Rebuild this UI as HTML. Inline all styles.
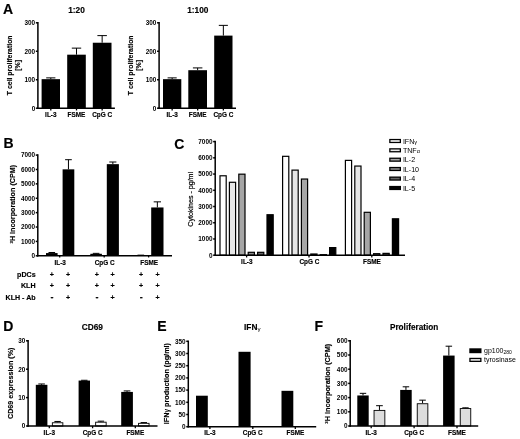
<!DOCTYPE html>
<html><head><meta charset="utf-8"><title>Figure</title>
<style>
html,body{margin:0;padding:0;background:#fff;}
svg{display:block;font-family:"Liberation Sans",Arial,sans-serif;fill:#000;}
</style></head><body>
<svg width="520" height="439" viewBox="0 0 520 439">
<rect x="0" y="0" width="520" height="439" fill="#fff"/>
<text x="2.90" y="13.70" font-size="14" font-weight="bold" text-anchor="start" stroke="#000" stroke-width="0.15">A</text>
<text x="76.50" y="12.60" font-size="8.3" font-weight="bold" text-anchor="middle" stroke="#000" stroke-width="0.15">1:20</text>
<line x1="50.80" y1="79.16" x2="50.80" y2="77.88" stroke="#000" stroke-width="1.0"/>
<line x1="46.20" y1="77.88" x2="55.40" y2="77.88" stroke="#000" stroke-width="1.0"/>
<rect x="41.60" y="79.16" width="18.40" height="29.04" fill="#000"/>
<line x1="76.50" y1="54.68" x2="76.50" y2="48.14" stroke="#000" stroke-width="1.0"/>
<line x1="71.80" y1="48.14" x2="81.20" y2="48.14" stroke="#000" stroke-width="1.0"/>
<rect x="67.20" y="54.68" width="18.60" height="53.52" fill="#000"/>
<line x1="102.15" y1="42.73" x2="102.15" y2="35.61" stroke="#000" stroke-width="1.0"/>
<line x1="97.40" y1="35.61" x2="106.90" y2="35.61" stroke="#000" stroke-width="1.0"/>
<rect x="92.80" y="42.73" width="18.70" height="65.47" fill="#000"/>
<line x1="37.90" y1="22.05" x2="37.90" y2="108.95" stroke="#000" stroke-width="1.5"/>
<line x1="37.15" y1="108.20" x2="114.90" y2="108.20" stroke="#000" stroke-width="1.5"/>
<line x1="35.85" y1="22.80" x2="37.90" y2="22.80" stroke="#000" stroke-width="1.5"/>
<text x="35.20" y="25.10" font-size="6.4" font-weight="bold" text-anchor="end">300</text>
<line x1="35.85" y1="51.27" x2="37.90" y2="51.27" stroke="#000" stroke-width="1.5"/>
<text x="35.20" y="53.57" font-size="6.4" font-weight="bold" text-anchor="end">200</text>
<line x1="35.85" y1="79.73" x2="37.90" y2="79.73" stroke="#000" stroke-width="1.5"/>
<text x="35.20" y="82.04" font-size="6.4" font-weight="bold" text-anchor="end">100</text>
<line x1="35.85" y1="108.20" x2="37.90" y2="108.20" stroke="#000" stroke-width="1.5"/>
<text x="35.20" y="110.50" font-size="6.4" font-weight="bold" text-anchor="end">0</text>
<line x1="50.80" y1="108.20" x2="50.80" y2="110.45" stroke="#000" stroke-width="1.3"/>
<line x1="76.50" y1="108.20" x2="76.50" y2="110.45" stroke="#000" stroke-width="1.3"/>
<line x1="102.15" y1="108.20" x2="102.15" y2="110.45" stroke="#000" stroke-width="1.3"/>
<text x="50.80" y="117.00" font-size="6.4" font-weight="bold" text-anchor="middle" stroke="#000" stroke-width="0.15">IL-3</text>
<text x="76.50" y="117.00" font-size="6.4" font-weight="bold" text-anchor="middle" stroke="#000" stroke-width="0.15">FSME</text>
<text x="102.15" y="117.00" font-size="6.4" font-weight="bold" text-anchor="middle" stroke="#000" stroke-width="0.15">CpG C</text>
<text x="12.00" y="65.30" font-size="6.9" font-weight="bold" text-anchor="middle" transform="rotate(-90 12.00 65.30)" stroke="#000" stroke-width="0.15">T cell proliferation</text>
<text x="20.20" y="65.30" font-size="7.0" font-weight="bold" text-anchor="middle" transform="rotate(-90 20.20 65.30)" stroke="#000" stroke-width="0.15">[%]</text>
<text x="197.80" y="12.60" font-size="8.3" font-weight="bold" text-anchor="middle" stroke="#000" stroke-width="0.15">1:100</text>
<line x1="172.15" y1="79.16" x2="172.15" y2="77.88" stroke="#000" stroke-width="1.0"/>
<line x1="167.60" y1="77.88" x2="176.70" y2="77.88" stroke="#000" stroke-width="1.0"/>
<rect x="163.00" y="79.16" width="18.30" height="29.04" fill="#000"/>
<line x1="197.65" y1="70.20" x2="197.65" y2="67.92" stroke="#000" stroke-width="1.0"/>
<line x1="192.90" y1="67.92" x2="202.40" y2="67.92" stroke="#000" stroke-width="1.0"/>
<rect x="188.30" y="70.20" width="18.70" height="38.00" fill="#000"/>
<line x1="223.35" y1="35.61" x2="223.35" y2="25.36" stroke="#000" stroke-width="1.0"/>
<line x1="218.80" y1="25.36" x2="227.90" y2="25.36" stroke="#000" stroke-width="1.0"/>
<rect x="214.20" y="35.61" width="18.30" height="72.59" fill="#000"/>
<line x1="159.10" y1="22.05" x2="159.10" y2="108.95" stroke="#000" stroke-width="1.5"/>
<line x1="158.35" y1="108.20" x2="236.00" y2="108.20" stroke="#000" stroke-width="1.5"/>
<line x1="157.05" y1="22.80" x2="159.10" y2="22.80" stroke="#000" stroke-width="1.5"/>
<text x="156.40" y="25.10" font-size="6.4" font-weight="bold" text-anchor="end">300</text>
<line x1="157.05" y1="51.27" x2="159.10" y2="51.27" stroke="#000" stroke-width="1.5"/>
<text x="156.40" y="53.57" font-size="6.4" font-weight="bold" text-anchor="end">200</text>
<line x1="157.05" y1="79.73" x2="159.10" y2="79.73" stroke="#000" stroke-width="1.5"/>
<text x="156.40" y="82.04" font-size="6.4" font-weight="bold" text-anchor="end">100</text>
<line x1="157.05" y1="108.20" x2="159.10" y2="108.20" stroke="#000" stroke-width="1.5"/>
<text x="156.40" y="110.50" font-size="6.4" font-weight="bold" text-anchor="end">0</text>
<line x1="172.15" y1="108.20" x2="172.15" y2="110.45" stroke="#000" stroke-width="1.3"/>
<line x1="197.65" y1="108.20" x2="197.65" y2="110.45" stroke="#000" stroke-width="1.3"/>
<line x1="223.35" y1="108.20" x2="223.35" y2="110.45" stroke="#000" stroke-width="1.3"/>
<text x="172.15" y="117.00" font-size="6.4" font-weight="bold" text-anchor="middle" stroke="#000" stroke-width="0.15">IL-3</text>
<text x="197.65" y="117.00" font-size="6.4" font-weight="bold" text-anchor="middle" stroke="#000" stroke-width="0.15">FSME</text>
<text x="223.35" y="117.00" font-size="6.4" font-weight="bold" text-anchor="middle" stroke="#000" stroke-width="0.15">CpG C</text>
<text x="133.50" y="65.30" font-size="6.9" font-weight="bold" text-anchor="middle" transform="rotate(-90 133.50 65.30)" stroke="#000" stroke-width="0.15">T cell proliferation</text>
<text x="141.40" y="65.30" font-size="7.0" font-weight="bold" text-anchor="middle" transform="rotate(-90 141.40 65.30)" stroke="#000" stroke-width="0.15">[%]</text>
<text x="3.50" y="148.30" font-size="14" font-weight="bold" text-anchor="start" stroke="#000" stroke-width="0.15">B</text>
<line x1="51.80" y1="253.07" x2="51.80" y2="252.49" stroke="#000" stroke-width="1.0"/>
<line x1="48.50" y1="252.49" x2="55.10" y2="252.49" stroke="#000" stroke-width="1.0"/>
<rect x="46.00" y="253.07" width="11.60" height="2.73" fill="#000"/>
<line x1="68.45" y1="169.34" x2="68.45" y2="159.70" stroke="#000" stroke-width="1.0"/>
<line x1="65.10" y1="159.70" x2="71.80" y2="159.70" stroke="#000" stroke-width="1.0"/>
<rect x="62.60" y="169.34" width="11.70" height="86.46" fill="#000"/>
<line x1="96.10" y1="253.79" x2="96.10" y2="253.35" stroke="#000" stroke-width="1.0"/>
<line x1="92.80" y1="253.35" x2="99.40" y2="253.35" stroke="#000" stroke-width="1.0"/>
<rect x="90.30" y="253.79" width="11.60" height="2.01" fill="#000"/>
<line x1="112.85" y1="164.16" x2="112.85" y2="162.01" stroke="#000" stroke-width="1.0"/>
<line x1="109.30" y1="162.01" x2="116.40" y2="162.01" stroke="#000" stroke-width="1.0"/>
<rect x="106.80" y="164.16" width="12.10" height="91.64" fill="#000"/>
<line x1="140.80" y1="255.15" x2="140.80" y2="255.15" stroke="#000" stroke-width="1.0"/>
<line x1="137.50" y1="255.15" x2="144.10" y2="255.15" stroke="#000" stroke-width="1.0"/>
<rect x="135.00" y="255.15" width="11.60" height="0.65" fill="#000"/>
<line x1="157.35" y1="207.46" x2="157.35" y2="201.85" stroke="#000" stroke-width="1.0"/>
<line x1="153.70" y1="201.85" x2="161.00" y2="201.85" stroke="#000" stroke-width="1.0"/>
<rect x="151.20" y="207.46" width="12.30" height="48.34" fill="#000"/>
<line x1="37.80" y1="154.35" x2="37.80" y2="256.55" stroke="#000" stroke-width="1.5"/>
<line x1="37.05" y1="255.80" x2="172.00" y2="255.80" stroke="#000" stroke-width="1.5"/>
<line x1="35.75" y1="255.80" x2="37.80" y2="255.80" stroke="#000" stroke-width="1.5"/>
<text x="35.10" y="258.10" font-size="6.4" font-weight="bold" text-anchor="end">0</text>
<line x1="35.75" y1="241.41" x2="37.80" y2="241.41" stroke="#000" stroke-width="1.5"/>
<text x="35.10" y="243.72" font-size="6.4" font-weight="bold" text-anchor="end">1000</text>
<line x1="35.75" y1="227.03" x2="37.80" y2="227.03" stroke="#000" stroke-width="1.5"/>
<text x="35.10" y="229.33" font-size="6.4" font-weight="bold" text-anchor="end">2000</text>
<line x1="35.75" y1="212.64" x2="37.80" y2="212.64" stroke="#000" stroke-width="1.5"/>
<text x="35.10" y="214.95" font-size="6.4" font-weight="bold" text-anchor="end">3000</text>
<line x1="35.75" y1="198.26" x2="37.80" y2="198.26" stroke="#000" stroke-width="1.5"/>
<text x="35.10" y="200.56" font-size="6.4" font-weight="bold" text-anchor="end">4000</text>
<line x1="35.75" y1="183.87" x2="37.80" y2="183.87" stroke="#000" stroke-width="1.5"/>
<text x="35.10" y="186.18" font-size="6.4" font-weight="bold" text-anchor="end">5000</text>
<line x1="35.75" y1="169.49" x2="37.80" y2="169.49" stroke="#000" stroke-width="1.5"/>
<text x="35.10" y="171.79" font-size="6.4" font-weight="bold" text-anchor="end">6000</text>
<line x1="35.75" y1="155.10" x2="37.80" y2="155.10" stroke="#000" stroke-width="1.5"/>
<text x="35.10" y="157.40" font-size="6.4" font-weight="bold" text-anchor="end">7000</text>
<line x1="59.70" y1="255.80" x2="59.70" y2="257.45" stroke="#000" stroke-width="1.3"/>
<line x1="104.20" y1="255.80" x2="104.20" y2="257.45" stroke="#000" stroke-width="1.3"/>
<line x1="148.60" y1="255.80" x2="148.60" y2="257.45" stroke="#000" stroke-width="1.3"/>
<text x="60.20" y="264.60" font-size="6.4" font-weight="bold" text-anchor="middle" stroke="#000" stroke-width="0.15">IL-3</text>
<text x="104.70" y="264.60" font-size="6.4" font-weight="bold" text-anchor="middle" stroke="#000" stroke-width="0.15">CpG C</text>
<text x="149.20" y="264.60" font-size="6.4" font-weight="bold" text-anchor="middle" stroke="#000" stroke-width="0.15">FSME</text>
<text x="15.50" y="204.20" font-size="7.2" font-weight="bold" text-anchor="middle" transform="rotate(-90 15.50 204.20)" stroke="#000" stroke-width="0.15"><tspan font-size="4.4" dy="-2.4">3</tspan><tspan dy="2.4">H Incorporation (CPM)</tspan></text>
<text x="35.60" y="276.90" font-size="7.1" font-weight="bold" text-anchor="end" stroke="#000" stroke-width="0.15">pDCs</text>
<text x="51.90" y="276.90" font-size="7.1" font-weight="bold" text-anchor="middle" stroke="#000" stroke-width="0.15">+</text>
<text x="68.20" y="276.90" font-size="7.1" font-weight="bold" text-anchor="middle" stroke="#000" stroke-width="0.15">+</text>
<text x="96.90" y="276.90" font-size="7.1" font-weight="bold" text-anchor="middle" stroke="#000" stroke-width="0.15">+</text>
<text x="112.50" y="276.90" font-size="7.1" font-weight="bold" text-anchor="middle" stroke="#000" stroke-width="0.15">+</text>
<text x="141.20" y="276.90" font-size="7.1" font-weight="bold" text-anchor="middle" stroke="#000" stroke-width="0.15">+</text>
<text x="157.50" y="276.90" font-size="7.1" font-weight="bold" text-anchor="middle" stroke="#000" stroke-width="0.15">+</text>
<text x="35.60" y="288.40" font-size="7.1" font-weight="bold" text-anchor="end" stroke="#000" stroke-width="0.15">KLH</text>
<text x="51.90" y="288.40" font-size="7.1" font-weight="bold" text-anchor="middle" stroke="#000" stroke-width="0.15">+</text>
<text x="68.20" y="288.40" font-size="7.1" font-weight="bold" text-anchor="middle" stroke="#000" stroke-width="0.15">+</text>
<text x="96.90" y="288.40" font-size="7.1" font-weight="bold" text-anchor="middle" stroke="#000" stroke-width="0.15">+</text>
<text x="112.50" y="288.40" font-size="7.1" font-weight="bold" text-anchor="middle" stroke="#000" stroke-width="0.15">+</text>
<text x="141.20" y="288.40" font-size="7.1" font-weight="bold" text-anchor="middle" stroke="#000" stroke-width="0.15">+</text>
<text x="157.50" y="288.40" font-size="7.1" font-weight="bold" text-anchor="middle" stroke="#000" stroke-width="0.15">+</text>
<text x="35.60" y="300.00" font-size="7.1" font-weight="bold" text-anchor="end" stroke="#000" stroke-width="0.15">KLH - Ab</text>
<text x="51.90" y="300.00" font-size="9" font-weight="bold" text-anchor="middle" stroke="#000" stroke-width="0.15">-</text>
<text x="68.20" y="300.00" font-size="7.1" font-weight="bold" text-anchor="middle" stroke="#000" stroke-width="0.15">+</text>
<text x="96.90" y="300.00" font-size="9" font-weight="bold" text-anchor="middle" stroke="#000" stroke-width="0.15">-</text>
<text x="112.50" y="300.00" font-size="7.1" font-weight="bold" text-anchor="middle" stroke="#000" stroke-width="0.15">+</text>
<text x="141.20" y="300.00" font-size="9" font-weight="bold" text-anchor="middle" stroke="#000" stroke-width="0.15">-</text>
<text x="157.50" y="300.00" font-size="7.1" font-weight="bold" text-anchor="middle" stroke="#000" stroke-width="0.15">+</text>
<text x="174.30" y="148.90" font-size="14" font-weight="bold" text-anchor="start" stroke="#000" stroke-width="0.15">C</text>
<rect x="220.00" y="175.79" width="6.20" height="79.41" fill="#fff" stroke="#000" stroke-width="1.2"/>
<rect x="229.40" y="182.28" width="6.20" height="72.92" fill="#e6e6e6" stroke="#000" stroke-width="1.2"/>
<rect x="238.80" y="174.17" width="6.20" height="81.03" fill="#a6a6a6" stroke="#000" stroke-width="1.2"/>
<rect x="248.20" y="252.31" width="6.20" height="2.89" fill="#8c8c8c" stroke="#000" stroke-width="1.2"/>
<rect x="257.60" y="252.31" width="6.20" height="2.89" fill="#666" stroke="#000" stroke-width="1.2"/>
<rect x="267.00" y="214.74" width="6.20" height="40.46" fill="#000" stroke="#000" stroke-width="1.2"/>
<rect x="282.60" y="156.32" width="6.20" height="98.88" fill="#fff" stroke="#000" stroke-width="1.2"/>
<rect x="292.00" y="170.11" width="6.20" height="85.09" fill="#e6e6e6" stroke="#000" stroke-width="1.2"/>
<rect x="301.40" y="179.04" width="6.20" height="76.16" fill="#a6a6a6" stroke="#000" stroke-width="1.2"/>
<rect x="310.80" y="254.01" width="6.20" height="1.19" fill="#8c8c8c" stroke="#000" stroke-width="1.2"/>
<rect x="320.20" y="254.66" width="6.20" height="0.54" fill="#666" stroke="#000" stroke-width="1.2"/>
<rect x="329.60" y="247.60" width="6.20" height="7.60" fill="#000" stroke="#000" stroke-width="1.2"/>
<rect x="345.40" y="160.38" width="6.20" height="94.82" fill="#fff" stroke="#000" stroke-width="1.2"/>
<rect x="354.80" y="166.06" width="6.20" height="89.14" fill="#e6e6e6" stroke="#000" stroke-width="1.2"/>
<rect x="364.20" y="212.31" width="6.20" height="42.89" fill="#a6a6a6" stroke="#000" stroke-width="1.2"/>
<rect x="373.60" y="253.69" width="6.20" height="1.51" fill="#8c8c8c" stroke="#000" stroke-width="1.2"/>
<rect x="383.00" y="253.37" width="6.20" height="1.83" fill="#666" stroke="#000" stroke-width="1.2"/>
<rect x="392.40" y="218.80" width="6.20" height="36.40" fill="#000" stroke="#000" stroke-width="1.2"/>
<line x1="215.20" y1="140.85" x2="215.20" y2="255.95" stroke="#000" stroke-width="1.5"/>
<line x1="214.45" y1="255.20" x2="405.00" y2="255.20" stroke="#000" stroke-width="1.5"/>
<line x1="213.15" y1="255.20" x2="215.20" y2="255.20" stroke="#000" stroke-width="1.5"/>
<text x="212.50" y="257.50" font-size="6.4" font-weight="bold" text-anchor="end">0</text>
<line x1="213.15" y1="238.97" x2="215.20" y2="238.97" stroke="#000" stroke-width="1.5"/>
<text x="212.50" y="241.28" font-size="6.4" font-weight="bold" text-anchor="end">1000</text>
<line x1="213.15" y1="222.74" x2="215.20" y2="222.74" stroke="#000" stroke-width="1.5"/>
<text x="212.50" y="225.05" font-size="6.4" font-weight="bold" text-anchor="end">2000</text>
<line x1="213.15" y1="206.51" x2="215.20" y2="206.51" stroke="#000" stroke-width="1.5"/>
<text x="212.50" y="208.82" font-size="6.4" font-weight="bold" text-anchor="end">3000</text>
<line x1="213.15" y1="190.29" x2="215.20" y2="190.29" stroke="#000" stroke-width="1.5"/>
<text x="212.50" y="192.59" font-size="6.4" font-weight="bold" text-anchor="end">4000</text>
<line x1="213.15" y1="174.06" x2="215.20" y2="174.06" stroke="#000" stroke-width="1.5"/>
<text x="212.50" y="176.36" font-size="6.4" font-weight="bold" text-anchor="end">5000</text>
<line x1="213.15" y1="157.83" x2="215.20" y2="157.83" stroke="#000" stroke-width="1.5"/>
<text x="212.50" y="160.13" font-size="6.4" font-weight="bold" text-anchor="end">6000</text>
<line x1="213.15" y1="141.60" x2="215.20" y2="141.60" stroke="#000" stroke-width="1.5"/>
<text x="212.50" y="143.90" font-size="6.4" font-weight="bold" text-anchor="end">7000</text>
<line x1="246.60" y1="255.20" x2="246.60" y2="257.45" stroke="#000" stroke-width="1.3"/>
<line x1="309.00" y1="255.20" x2="309.00" y2="257.45" stroke="#000" stroke-width="1.3"/>
<line x1="371.80" y1="255.20" x2="371.80" y2="257.45" stroke="#000" stroke-width="1.3"/>
<text x="246.80" y="263.90" font-size="6.4" font-weight="bold" text-anchor="middle" stroke="#000" stroke-width="0.15">IL-3</text>
<text x="309.40" y="263.90" font-size="6.4" font-weight="bold" text-anchor="middle" stroke="#000" stroke-width="0.15">CpG C</text>
<text x="372.00" y="263.90" font-size="6.4" font-weight="bold" text-anchor="middle" stroke="#000" stroke-width="0.15">FSME</text>
<text x="192.60" y="199.30" font-size="7.1" font-weight="normal" text-anchor="middle" transform="rotate(-90 192.60 199.30)" stroke="#000" stroke-width="0.2">Cytokines - pg/ml</text>
<rect x="389.85" y="139.55" width="10.50" height="2.90" fill="#fff" stroke="#000" stroke-width="1.3"/>
<text x="402.90" y="143.50" font-size="7.1" font-weight="normal" text-anchor="start">IFN<tspan font-size="5.6">&#947;</tspan></text>
<rect x="389.85" y="148.85" width="10.50" height="2.90" fill="#e6e6e6" stroke="#000" stroke-width="1.3"/>
<text x="402.90" y="152.80" font-size="7.1" font-weight="normal" text-anchor="start">TNF<tspan font-size="5.6">&#945;</tspan></text>
<rect x="389.85" y="158.25" width="10.50" height="2.90" fill="#a6a6a6" stroke="#000" stroke-width="1.3"/>
<text x="402.90" y="162.20" font-size="7.1" font-weight="normal" text-anchor="start">IL-2</text>
<rect x="389.85" y="167.55" width="10.50" height="2.90" fill="#8c8c8c" stroke="#000" stroke-width="1.3"/>
<text x="402.90" y="171.50" font-size="7.1" font-weight="normal" text-anchor="start">IL-10</text>
<rect x="389.85" y="177.15" width="10.50" height="2.90" fill="#666" stroke="#000" stroke-width="1.3"/>
<text x="402.90" y="181.10" font-size="7.1" font-weight="normal" text-anchor="start">IL-4</text>
<rect x="389.85" y="186.55" width="10.50" height="2.90" fill="#000" stroke="#000" stroke-width="1.3"/>
<text x="402.90" y="190.50" font-size="7.1" font-weight="normal" text-anchor="start">IL-5</text>
<text x="3.20" y="331.30" font-size="14" font-weight="bold" text-anchor="start" stroke="#000" stroke-width="0.15">D</text>
<text x="92.30" y="329.90" font-size="8.3" font-weight="bold" text-anchor="middle" stroke="#000" stroke-width="0.15">CD69</text>
<line x1="41.60" y1="384.82" x2="41.60" y2="383.97" stroke="#000" stroke-width="1.0"/>
<line x1="38.30" y1="383.97" x2="44.90" y2="383.97" stroke="#000" stroke-width="1.0"/>
<rect x="35.80" y="384.82" width="11.60" height="41.18" fill="#000"/>
<line x1="57.60" y1="422.31" x2="57.60" y2="421.46" stroke="#000" stroke-width="1.0"/>
<line x1="54.40" y1="421.46" x2="60.80" y2="421.46" stroke="#000" stroke-width="1.0"/>
<rect x="52.35" y="422.76" width="10.50" height="3.24" fill="#fff" stroke="#000" stroke-width="0.9"/>
<line x1="84.30" y1="380.56" x2="84.30" y2="380.28" stroke="#000" stroke-width="1.0"/>
<line x1="81.10" y1="380.28" x2="87.50" y2="380.28" stroke="#000" stroke-width="1.0"/>
<rect x="78.60" y="380.56" width="11.40" height="45.44" fill="#000"/>
<line x1="100.90" y1="421.74" x2="100.90" y2="421.17" stroke="#000" stroke-width="1.0"/>
<line x1="97.70" y1="421.17" x2="104.10" y2="421.17" stroke="#000" stroke-width="1.0"/>
<rect x="95.65" y="422.19" width="10.50" height="3.81" fill="#fff" stroke="#000" stroke-width="0.9"/>
<line x1="127.05" y1="391.92" x2="127.05" y2="390.93" stroke="#000" stroke-width="1.0"/>
<line x1="123.70" y1="390.93" x2="130.40" y2="390.93" stroke="#000" stroke-width="1.0"/>
<rect x="121.20" y="391.92" width="11.70" height="34.08" fill="#000"/>
<line x1="143.80" y1="422.88" x2="143.80" y2="422.59" stroke="#000" stroke-width="1.0"/>
<line x1="140.60" y1="422.59" x2="147.00" y2="422.59" stroke="#000" stroke-width="1.0"/>
<rect x="138.55" y="423.33" width="10.50" height="2.67" fill="#fff" stroke="#000" stroke-width="0.9"/>
<line x1="28.10" y1="340.05" x2="28.10" y2="426.75" stroke="#000" stroke-width="1.5"/>
<line x1="27.35" y1="426.00" x2="157.50" y2="426.00" stroke="#000" stroke-width="1.5"/>
<line x1="26.05" y1="340.80" x2="28.10" y2="340.80" stroke="#000" stroke-width="1.5"/>
<text x="25.40" y="343.10" font-size="6.4" font-weight="bold" text-anchor="end">30</text>
<line x1="26.05" y1="369.20" x2="28.10" y2="369.20" stroke="#000" stroke-width="1.5"/>
<text x="25.40" y="371.50" font-size="6.4" font-weight="bold" text-anchor="end">20</text>
<line x1="26.05" y1="397.60" x2="28.10" y2="397.60" stroke="#000" stroke-width="1.5"/>
<text x="25.40" y="399.90" font-size="6.4" font-weight="bold" text-anchor="end">10</text>
<line x1="26.05" y1="426.00" x2="28.10" y2="426.00" stroke="#000" stroke-width="1.5"/>
<text x="25.40" y="428.30" font-size="6.4" font-weight="bold" text-anchor="end">0</text>
<line x1="49.30" y1="426.00" x2="49.30" y2="428.25" stroke="#000" stroke-width="1.3"/>
<line x1="92.60" y1="426.00" x2="92.60" y2="428.25" stroke="#000" stroke-width="1.3"/>
<line x1="135.30" y1="426.00" x2="135.30" y2="428.25" stroke="#000" stroke-width="1.3"/>
<text x="49.30" y="435.10" font-size="6.4" font-weight="bold" text-anchor="middle" stroke="#000" stroke-width="0.15">IL-3</text>
<text x="92.60" y="435.10" font-size="6.4" font-weight="bold" text-anchor="middle" stroke="#000" stroke-width="0.15">CpG C</text>
<text x="135.30" y="435.10" font-size="6.4" font-weight="bold" text-anchor="middle" stroke="#000" stroke-width="0.15">FSME</text>
<text x="12.80" y="383.30" font-size="7.2" font-weight="bold" text-anchor="middle" transform="rotate(-90 12.80 383.30)" stroke="#000" stroke-width="0.15">CD69 expression (%)</text>
<text x="157.30" y="331.30" font-size="14" font-weight="bold" text-anchor="start" stroke="#000" stroke-width="0.15">E</text>
<text x="252.30" y="330.20" font-size="8.3" font-weight="bold" text-anchor="middle" stroke="#000" stroke-width="0.15">IFN<tspan font-size="6.2" font-weight="normal" stroke="none" dy="1.2">&#947;</tspan></text>
<rect x="196.00" y="395.71" width="11.80" height="30.99" fill="#000"/>
<rect x="238.50" y="351.79" width="12.10" height="74.91" fill="#000"/>
<rect x="281.50" y="390.83" width="11.80" height="35.87" fill="#000"/>
<line x1="188.30" y1="340.55" x2="188.30" y2="427.45" stroke="#000" stroke-width="1.5"/>
<line x1="187.55" y1="426.70" x2="316.20" y2="426.70" stroke="#000" stroke-width="1.5"/>
<line x1="186.25" y1="426.70" x2="188.30" y2="426.70" stroke="#000" stroke-width="1.5"/>
<text x="185.60" y="429.00" font-size="6.4" font-weight="bold" text-anchor="end">0</text>
<line x1="186.25" y1="414.50" x2="188.30" y2="414.50" stroke="#000" stroke-width="1.5"/>
<text x="185.60" y="416.80" font-size="6.4" font-weight="bold" text-anchor="end">50</text>
<line x1="186.25" y1="402.30" x2="188.30" y2="402.30" stroke="#000" stroke-width="1.5"/>
<text x="185.60" y="404.60" font-size="6.4" font-weight="bold" text-anchor="end">100</text>
<line x1="186.25" y1="390.10" x2="188.30" y2="390.10" stroke="#000" stroke-width="1.5"/>
<text x="185.60" y="392.40" font-size="6.4" font-weight="bold" text-anchor="end">150</text>
<line x1="186.25" y1="377.90" x2="188.30" y2="377.90" stroke="#000" stroke-width="1.5"/>
<text x="185.60" y="380.20" font-size="6.4" font-weight="bold" text-anchor="end">200</text>
<line x1="186.25" y1="365.70" x2="188.30" y2="365.70" stroke="#000" stroke-width="1.5"/>
<text x="185.60" y="368.00" font-size="6.4" font-weight="bold" text-anchor="end">250</text>
<line x1="186.25" y1="353.50" x2="188.30" y2="353.50" stroke="#000" stroke-width="1.5"/>
<text x="185.60" y="355.80" font-size="6.4" font-weight="bold" text-anchor="end">300</text>
<line x1="186.25" y1="341.30" x2="188.30" y2="341.30" stroke="#000" stroke-width="1.5"/>
<text x="185.60" y="343.60" font-size="6.4" font-weight="bold" text-anchor="end">350</text>
<line x1="209.90" y1="426.70" x2="209.90" y2="428.95" stroke="#000" stroke-width="1.3"/>
<line x1="252.80" y1="426.70" x2="252.80" y2="428.95" stroke="#000" stroke-width="1.3"/>
<line x1="295.30" y1="426.70" x2="295.30" y2="428.95" stroke="#000" stroke-width="1.3"/>
<text x="210.00" y="435.10" font-size="6.4" font-weight="bold" text-anchor="middle" stroke="#000" stroke-width="0.15">IL-3</text>
<text x="252.80" y="435.10" font-size="6.4" font-weight="bold" text-anchor="middle" stroke="#000" stroke-width="0.15">CpG C</text>
<text x="295.40" y="435.10" font-size="6.4" font-weight="bold" text-anchor="middle" stroke="#000" stroke-width="0.15">FSME</text>
<text x="169.30" y="383.60" font-size="7.25" font-weight="bold" text-anchor="middle" transform="rotate(-90 169.30 383.60)" stroke="#000" stroke-width="0.15">IFN<tspan font-size="7" font-weight="normal">&#947;</tspan> production (pg/ml)</text>
<text x="314.60" y="331.30" font-size="14" font-weight="bold" text-anchor="start" stroke="#000" stroke-width="0.15">F</text>
<text x="414.10" y="330.00" font-size="8.2" font-weight="bold" text-anchor="middle" stroke="#000" stroke-width="0.15">Proliferation</text>
<line x1="363.00" y1="395.47" x2="363.00" y2="393.34" stroke="#000" stroke-width="1.0"/>
<line x1="359.80" y1="393.34" x2="366.20" y2="393.34" stroke="#000" stroke-width="1.0"/>
<rect x="357.30" y="395.47" width="11.40" height="30.53" fill="#000"/>
<line x1="379.45" y1="409.95" x2="379.45" y2="405.69" stroke="#000" stroke-width="1.0"/>
<line x1="376.10" y1="405.69" x2="382.80" y2="405.69" stroke="#000" stroke-width="1.0"/>
<rect x="374.05" y="410.40" width="10.80" height="15.60" fill="#ddd" stroke="#000" stroke-width="0.9"/>
<line x1="405.95" y1="389.93" x2="405.95" y2="386.81" stroke="#000" stroke-width="1.0"/>
<line x1="402.70" y1="386.81" x2="409.20" y2="386.81" stroke="#000" stroke-width="1.0"/>
<rect x="400.20" y="389.93" width="11.50" height="36.07" fill="#000"/>
<line x1="422.55" y1="403.28" x2="422.55" y2="400.16" stroke="#000" stroke-width="1.0"/>
<line x1="419.30" y1="400.16" x2="425.80" y2="400.16" stroke="#000" stroke-width="1.0"/>
<rect x="417.25" y="403.73" width="10.60" height="22.27" fill="#ddd" stroke="#000" stroke-width="0.9"/>
<line x1="448.85" y1="355.57" x2="448.85" y2="346.20" stroke="#000" stroke-width="1.0"/>
<line x1="445.60" y1="346.20" x2="452.10" y2="346.20" stroke="#000" stroke-width="1.0"/>
<rect x="443.10" y="355.57" width="11.50" height="70.43" fill="#000"/>
<line x1="465.50" y1="408.11" x2="465.50" y2="407.82" stroke="#000" stroke-width="1.0"/>
<line x1="462.30" y1="407.82" x2="468.70" y2="407.82" stroke="#000" stroke-width="1.0"/>
<rect x="460.25" y="408.56" width="10.50" height="17.44" fill="#ddd" stroke="#000" stroke-width="0.9"/>
<line x1="350.20" y1="340.05" x2="350.20" y2="426.75" stroke="#000" stroke-width="1.5"/>
<line x1="349.45" y1="426.00" x2="478.20" y2="426.00" stroke="#000" stroke-width="1.5"/>
<line x1="348.15" y1="426.00" x2="350.20" y2="426.00" stroke="#000" stroke-width="1.5"/>
<text x="347.50" y="428.30" font-size="6.4" font-weight="bold" text-anchor="end">0</text>
<line x1="348.15" y1="411.80" x2="350.20" y2="411.80" stroke="#000" stroke-width="1.5"/>
<text x="347.50" y="414.10" font-size="6.4" font-weight="bold" text-anchor="end">100</text>
<line x1="348.15" y1="397.60" x2="350.20" y2="397.60" stroke="#000" stroke-width="1.5"/>
<text x="347.50" y="399.90" font-size="6.4" font-weight="bold" text-anchor="end">200</text>
<line x1="348.15" y1="383.40" x2="350.20" y2="383.40" stroke="#000" stroke-width="1.5"/>
<text x="347.50" y="385.70" font-size="6.4" font-weight="bold" text-anchor="end">300</text>
<line x1="348.15" y1="369.20" x2="350.20" y2="369.20" stroke="#000" stroke-width="1.5"/>
<text x="347.50" y="371.50" font-size="6.4" font-weight="bold" text-anchor="end">400</text>
<line x1="348.15" y1="355.00" x2="350.20" y2="355.00" stroke="#000" stroke-width="1.5"/>
<text x="347.50" y="357.30" font-size="6.4" font-weight="bold" text-anchor="end">500</text>
<line x1="348.15" y1="340.80" x2="350.20" y2="340.80" stroke="#000" stroke-width="1.5"/>
<text x="347.50" y="343.10" font-size="6.4" font-weight="bold" text-anchor="end">600</text>
<line x1="371.20" y1="426.00" x2="371.20" y2="428.25" stroke="#000" stroke-width="1.3"/>
<line x1="414.10" y1="426.00" x2="414.10" y2="428.25" stroke="#000" stroke-width="1.3"/>
<line x1="457.00" y1="426.00" x2="457.00" y2="428.25" stroke="#000" stroke-width="1.3"/>
<text x="371.20" y="435.10" font-size="6.4" font-weight="bold" text-anchor="middle" stroke="#000" stroke-width="0.15">IL-3</text>
<text x="414.10" y="435.10" font-size="6.4" font-weight="bold" text-anchor="middle" stroke="#000" stroke-width="0.15">CpG C</text>
<text x="457.00" y="435.10" font-size="6.4" font-weight="bold" text-anchor="middle" stroke="#000" stroke-width="0.15">FSME</text>
<text x="330.50" y="383.70" font-size="7.3" font-weight="bold" text-anchor="middle" transform="rotate(-90 330.50 383.70)" stroke="#000" stroke-width="0.15"><tspan font-size="4.4" dy="-2.4">3</tspan><tspan dy="2.4">H incorporation (CPM)</tspan></text>
<rect x="469.30" y="348.30" width="12.20" height="4.90" fill="#000"/>
<text x="484.00" y="352.90" font-size="7" font-weight="normal" text-anchor="start">gp100<tspan font-size="5.0" dy="1.5">280</tspan></text>
<rect x="469.95" y="358.45" width="10.90" height="2.90" fill="#eee" stroke="#000" stroke-width="1.3"/>
<text x="484.00" y="362.40" font-size="7" font-weight="normal" text-anchor="start">tyrosinase</text>
</svg>
</body></html>
